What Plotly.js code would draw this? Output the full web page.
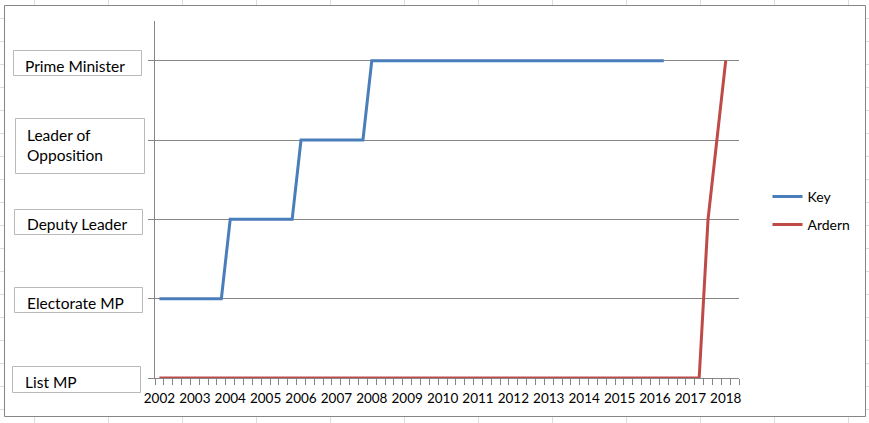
<!DOCTYPE html>
<html>
<head>
<meta charset="utf-8">
<script src="https://cdn.plot.ly/plotly-3.0.1.min.js"></script>
<style>html,body{margin:0;padding:0;background:#fff;}#chart{width:869px;height:423px;}</style>
</head>
<body>
<div id="chart"></div>
<script>
// ---- data ----
var quarters = [2002, 2002.25, 2002.5, 2002.75, 2003, 2003.25, 2003.5, 2003.75,
  2004, 2004.25, 2004.5, 2004.75, 2005, 2005.25, 2005.5, 2005.75,
  2006, 2006.25, 2006.5, 2006.75, 2007, 2007.25, 2007.5, 2007.75,
  2008, 2008.25, 2008.5, 2008.75, 2009, 2009.25, 2009.5, 2009.75,
  2010, 2010.25, 2010.5, 2010.75, 2011, 2011.25, 2011.5, 2011.75,
  2012, 2012.25, 2012.5, 2012.75, 2013, 2013.25, 2013.5, 2013.75,
  2014, 2014.25, 2014.5, 2014.75, 2015, 2015.25, 2015.5, 2015.75,
  2016, 2016.25, 2016.5, 2016.75, 2017, 2017.25, 2017.5, 2017.75,
  2018, 2018.25];
var keyLevels = [1, 1, 1, 1, 1, 1, 1, 1,
  2, 2, 2, 2, 2, 2, 2, 2,
  3, 3, 3, 3, 3, 3, 3, 3,
  4, 4, 4, 4, 4, 4, 4, 4,
  4, 4, 4, 4, 4, 4, 4, 4,
  4, 4, 4, 4, 4, 4, 4, 4,
  4, 4, 4, 4, 4, 4, 4, 4,
  4, 4];
var ardernLevels = [0, 0, 0, 0, 0, 0, 0, 0,
  0, 0, 0, 0, 0, 0, 0, 0,
  0, 0, 0, 0, 0, 0, 0, 0,
  0, 0, 0, 0, 0, 0, 0, 0,
  0, 0, 0, 0, 0, 0, 0, 0,
  0, 0, 0, 0, 0, 0, 0, 0,
  0, 0, 0, 0, 0, 0, 0, 0,
  0, 0, 0, 0, 0, 0, 2, 3,
  4];
var yearTicks = [2002, 2003, 2004, 2005, 2006, 2007, 2008, 2009, 2010, 2011, 2012, 2013, 2014, 2015, 2016, 2017, 2018];
var yearLabels = ["2002", "2003", "2004", "2005", "2006", "2007", "2008", "2009", "2010", "2011", "2012", "2013", "2014", "2015", "2016", "2017", "2018"];
var roleLevels = [0, 1, 2, 3, 4];
var roleLabels = ["List MP", "Electorate MP", "Deputy Leader", "Leader of<br>Opposition", "Prime Minister"];
var seriesNames = ["Key", "Ardern"];

// ---- geometry helpers (layout only) ----
var L = 155, T = 21, W = 584, H = 357;
function px(x) { return (x - L) / W; }
function py(y) { return (T + H - y) / H; }

var FONT = "Lato, 'Open Sans', sans-serif";
var GRID = "#868686";

// label boxes (pixel rects) and text anchors
var boxes = [
  {x0: 12.5, x1: 140.5, y0: 366.5, y1: 392.5, tx: 22.5, ty: 382},
  {x0: 14.5, x1: 142.5, y0: 287.5, y1: 312.5, tx: 24.5, ty: 303},
  {x0: 14.5, x1: 142.5, y0: 209.5, y1: 234.5, tx: 24.5, ty: 224},
  {x0: 15.5, x1: 144.5, y0: 118.5, y1: 173.5, tx: 25, ty: 145},
  {x0: 13.5, x1: 141.5, y0: 50.5, y1: 75.5, tx: 23, ty: 66}
];

var shapes = [];
var annotations = [];
boxes.forEach(function (b, i) {
  shapes.push({type: "rect", xref: "paper", yref: "paper",
    x0: px(b.x0), x1: px(b.x1), y0: py(b.y1), y1: py(b.y0),
    line: {color: "#B9B9B9", width: 1}, fillcolor: "rgba(255,255,255,0)"});
  annotations.push({xref: "paper", yref: "paper", x: px(b.tx), y: py(b.ty),
    xanchor: "left", yanchor: "middle", align: "left", showarrow: false,
    text: roleLabels[i], font: {family: FONT, size: 15.5, color: "#000"}});
});

// spreadsheet cell grid peeking outside the chart frame
var SHEET = "#DADCDD";
for (var c = 34.5; c < 869; c += 74) {
  shapes.push({type: "line", xref: "paper", yref: "paper", x0: px(c), x1: px(c), y0: py(0), y1: py(5.5), line: {color: SHEET, width: 1}, layer: "below"});
  shapes.push({type: "line", xref: "paper", yref: "paper", x0: px(c), x1: px(c), y0: py(416.5), y1: py(423), line: {color: SHEET, width: 1}, layer: "below"});
}
for (var r = 18.5; r < 423; r += 23) {
  shapes.push({type: "line", xref: "paper", yref: "paper", x0: px(0), x1: px(4.5), y0: py(r), y1: py(r), line: {color: SHEET, width: 1}, layer: "below"});
  shapes.push({type: "line", xref: "paper", yref: "paper", x0: px(865.5), x1: px(869), y0: py(r), y1: py(r), line: {color: SHEET, width: 1}, layer: "below"});
}
// chart frame
shapes.push({type: "rect", xref: "paper", yref: "paper",
  x0: px(4.5), x1: px(865.5), y0: py(416.5), y1: py(5.5),
  line: {color: "#868686", width: 1}, fillcolor: "rgba(255,255,255,0)", layer: "below"});

var traces = [
  {x: quarters.slice(0, keyLevels.length), y: keyLevels, name: seriesNames[0], type: "scatter", mode: "lines",
   line: {color: "#4A7EBB", width: 3}, legend: "legend", hoverinfo: "skip"},
  {x: quarters.slice(0, ardernLevels.length), y: ardernLevels, name: seriesNames[1], type: "scatter", mode: "lines",
   line: {color: "#BE4B48", width: 3}, legend: "legend2", hoverinfo: "skip"}
];

var layout = {
  width: 869, height: 423,
  margin: {l: L, r: 869 - L - W, t: T, b: 423 - T - H, pad: 0},
  paper_bgcolor: "#fff", plot_bgcolor: "#fff",
  font: {family: FONT, color: "#000"},
  showlegend: true,
  legend: {x: px(767.5), y: py(197), xanchor: "left", yanchor: "middle",
    font: {family: FONT, size: 14, color: "#000"}, bgcolor: "rgba(0,0,0,0)", borderwidth: 0},
  legend2: {x: px(767.5), y: py(225), xanchor: "left", yanchor: "middle",
    font: {family: FONT, size: 14, color: "#000"}, bgcolor: "rgba(0,0,0,0)", borderwidth: 0},
  xaxis: {
    range: [2001.875, 2018.375], fixedrange: true,
    tickmode: "array", tickvals: yearTicks, ticktext: yearLabels,
    ticks: "", showgrid: false, zeroline: false,
    showline: true, linecolor: GRID, linewidth: 1,
    tickfont: {family: FONT, size: 13.5, color: "#000"},
    ticklabelstandoff: 8,
    minor: {ticks: "outside", ticklen: 6, tickcolor: GRID, tickwidth: 1, tick0: 2001.875, dtick: 0.25, showgrid: false}
  },
  yaxis: {
    range: [0, 4.5], fixedrange: true,
    tickmode: "array", tickvals: roleLevels, showticklabels: false,
    ticks: "outside", ticklen: 6, tickcolor: GRID, tickwidth: 1,
    showgrid: true, gridcolor: GRID, gridwidth: 1, zeroline: false,
    showline: true, linecolor: GRID, linewidth: 1
  },
  shapes: shapes,
  annotations: annotations
};

Plotly.newPlot("chart", traces, layout, {displayModeBar: false, staticPlot: true});
</script>
</body>
</html>
